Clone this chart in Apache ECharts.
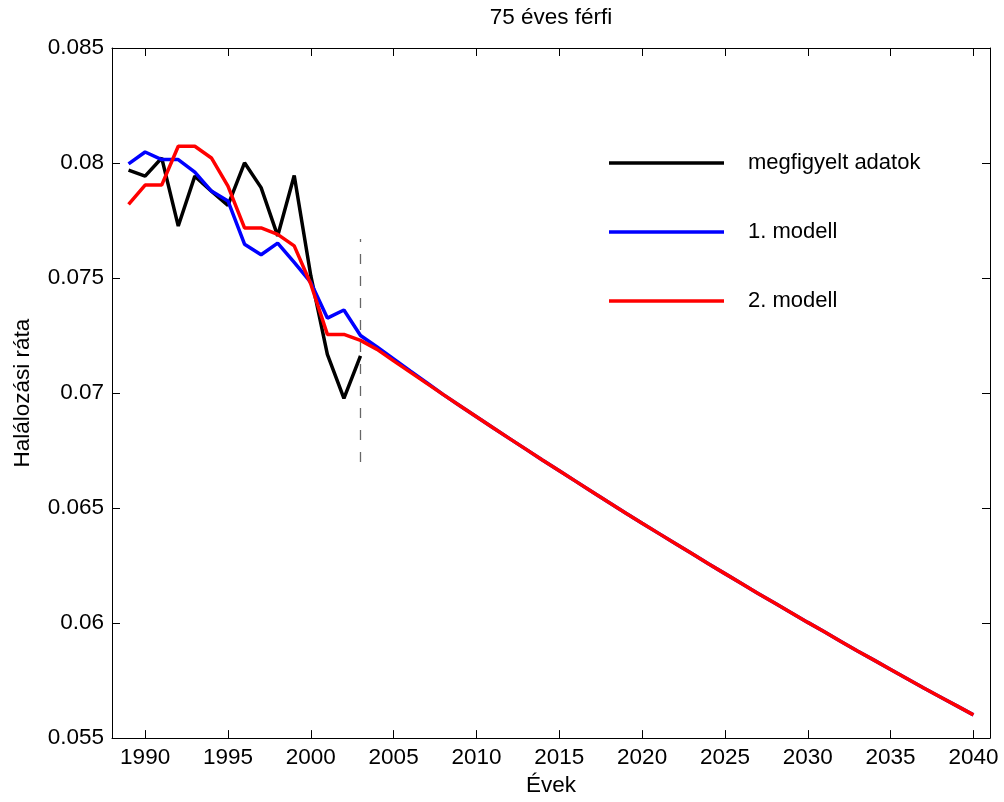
<!DOCTYPE html>
<html>
<head>
<meta charset="utf-8">
<script src="https://cdn.jsdelivr.net/npm/echarts@6/dist/echarts.min.js"></script>
<style>
  html, body { margin: 0; padding: 0; background: #fff; }
  #chart { width: 1004px; height: 802px; }
</style>
</head>
<body>
<div id="chart"></div>
<script>
// Years of observed rates and of the modelled series
const observedYears = [1989, 1990, 1991, 1992, 1993, 1994, 1995, 1996, 1997, 1998, 1999, 2000, 2001, 2002, 2003];
const modelYears = [];
for (let y = 1989; y <= 2040; y++) modelYears.push(y);

// Observed death rate (75-year-old men)
const observed = [0.07969, 0.07943, 0.08022, 0.07726, 0.07943, 0.07878, 0.07816, 0.08001, 0.07893, 0.07683,
  0.07946, 0.07510, 0.07168, 0.06977, 0.07162];

// Model 1: fitted 1989-2003, projected 2004-2040
const model1 = [0.07996, 0.08048, 0.08015, 0.08015, 0.07960, 0.07878, 0.07835, 0.07647, 0.07601, 0.07652,
  0.07568, 0.07481, 0.07326, 0.07361, 0.07250,
  0.07200, 0.07148, 0.07096, 0.07045, 0.06993, 0.06945, 0.06897, 0.06849, 0.06802, 0.06755,
  0.06708, 0.06662, 0.06616, 0.06570, 0.06524, 0.06479, 0.06434, 0.06390, 0.06346, 0.06302,
  0.06258, 0.06215, 0.06172, 0.06129, 0.06087, 0.06045, 0.06003, 0.05962, 0.05920, 0.05879,
  0.05839, 0.05798, 0.05758, 0.05718, 0.05679, 0.05640, 0.05601];

// Model 2: fitted 1989-2003, projected 2004-2040
const model2 = [0.07820, 0.07904, 0.07904, 0.08073, 0.08073, 0.08022, 0.07900, 0.07718, 0.07718, 0.07690,
  0.07640, 0.07474, 0.07255, 0.07255, 0.07229,
  0.07190, 0.07140, 0.07091, 0.07042, 0.06993, 0.06945, 0.06897, 0.06849, 0.06802, 0.06755,
  0.06708, 0.06662, 0.06616, 0.06570, 0.06524, 0.06479, 0.06434, 0.06390, 0.06346, 0.06302,
  0.06258, 0.06215, 0.06172, 0.06129, 0.06087, 0.06045, 0.06003, 0.05962, 0.05920, 0.05879,
  0.05839, 0.05798, 0.05758, 0.05718, 0.05679, 0.05640, 0.05601];

// Last observed year, marked with a dashed vertical segment
const cutoffYear = 2003;
const cutoffSpan = [0.0670, 0.0767];

// Axis ticks
const xTicks = [1990, 1995, 2000, 2005, 2010, 2015, 2020, 2025, 2030, 2035, 2040];
const yMin = 0.055, yMax = 0.085, yStep = 0.005;

const seriesNames = ['megfigyelt adatok', '1. modell', '2. modell'];

const FONT = "'Liberation Sans', Arial, Helvetica, sans-serif";
const pairs = (xs, ys) => ys.map((v, i) => [xs[i], v]);

const chart = echarts.init(document.getElementById('chart'), null, { renderer: 'canvas' });

const boxAxisX = (pos) => ({
  type: 'value', position: pos, min: 1988, max: 2041,
  axisLine: { show: true, onZero: false, lineStyle: { color: '#000', width: 1 } },
  axisTick: { show: true, inside: true, length: 8, customValues: xTicks, lineStyle: { color: '#000', width: 1 } },
  splitLine: { show: false }
});
const boxAxisY = (pos) => ({
  type: 'value', position: pos, min: yMin, max: yMax, interval: yStep,
  axisLine: { show: true, onZero: false, lineStyle: { color: '#000', width: 1 } },
  axisTick: { show: true, inside: true, length: 8, lineStyle: { color: '#000', width: 1 } },
  splitLine: { show: false }
});

const xBottom = Object.assign(boxAxisX('bottom'), {
  axisLabel: {
    show: true, customValues: xTicks, margin: 8, color: '#000', fontSize: 22.5, fontFamily: FONT,
    formatter: (v) => String(Math.round(v))
  },
  name: 'Évek', nameLocation: 'middle', nameGap: 34,
  nameTextStyle: { color: '#000', fontSize: 22.5, fontFamily: FONT }
});
const xTop = Object.assign(boxAxisX('top'), { axisLabel: { show: false } });

const yLeft = Object.assign(boxAxisY('left'), {
  axisLabel: {
    show: true, margin: 8, color: '#000', fontSize: 22.5, fontFamily: FONT,
    formatter: (v) => String(+v.toFixed(3))
  },
  name: 'Halálozási ráta', nameLocation: 'middle', nameGap: 78, nameRotate: 90,
  nameTextStyle: { color: '#000', fontSize: 22.5, fontFamily: FONT }
});
const yRight = Object.assign(boxAxisY('right'), { axisLabel: { show: false } });

const lineSeries = (name, data, color, z) => ({
  name, type: 'line', data, symbol: 'none', smooth: false, z,
  color, lineStyle: { color, width: 3.5 }, emphasis: { disabled: true }
});

chart.setOption({
  animation: false,
  backgroundColor: '#fff',
  textStyle: { fontFamily: FONT },
  title: {
    text: '75 éves férfi', left: 551, top: 6, textAlign: 'center', padding: 0,
    textStyle: { color: '#000', fontSize: 22.5, fontWeight: 'normal', fontFamily: FONT }
  },
  grid: { left: 112, right: 14, top: 48, bottom: 61, containLabel: false },
  legend: {
    data: seriesNames, orient: 'vertical', left: 609, top: 151, padding: 0,
    icon: 'rect', itemWidth: 115, itemHeight: 3.5, itemGap: 45,
    selectedMode: false,
    textStyle: { color: '#000', fontSize: 22, fontFamily: FONT, lineHeight: 24, padding: [0, 0, 0, 19] }
  },
  xAxis: [xBottom, xTop],
  yAxis: [yLeft, yRight],
  series: [
    lineSeries(seriesNames[0], pairs(observedYears, observed), '#000000', 2),
    lineSeries(seriesNames[1], pairs(modelYears, model1), '#0000ff', 3),
    lineSeries(seriesNames[2], pairs(modelYears, model2), '#ff0000', 4),
    {
      name: 'utolsó megfigyelt év', type: 'line', symbol: 'none', z: 5, silent: true,
      data: cutoffSpan.map((v) => [cutoffYear, v]),
      lineStyle: { color: '#666', width: 1.3, type: [10, 12] }
    }
  ]
});
</script>
</body>
</html>
